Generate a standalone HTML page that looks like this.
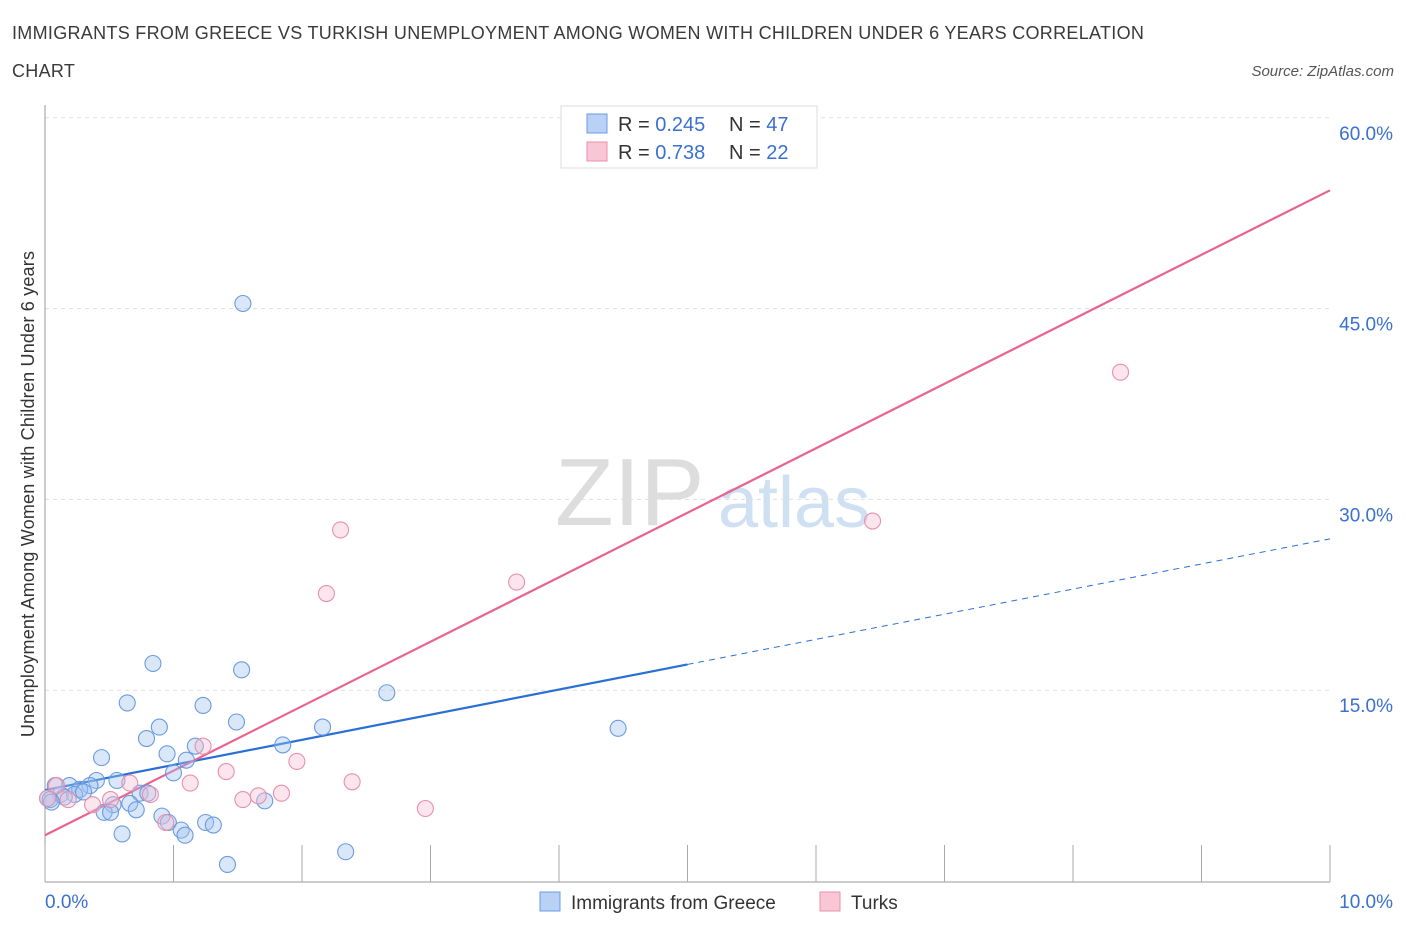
<!DOCTYPE html>
<html><head><meta charset="utf-8"><style>
body{margin:0;background:#fff;font-family:"Liberation Sans",sans-serif}
svg text{font-family:"Liberation Sans",sans-serif}
</style></head><body>
<svg id="c" width="1406" height="930" xmlns="http://www.w3.org/2000/svg">
<text x="12" y="39" font-size="18" fill="#3a3a3a" letter-spacing="0.3">IMMIGRANTS FROM GREECE VS TURKISH UNEMPLOYMENT AMONG WOMEN WITH CHILDREN UNDER 6 YEARS CORRELATION</text>
<text x="12" y="77" font-size="18" fill="#3a3a3a" letter-spacing="0.3">CHART</text>
<text x="1394" y="76" font-size="15" fill="#555" text-anchor="end" font-style="italic">Source: ZipAtlas.com</text>
<text x="555" y="525" font-size="96" fill="#ddd" font-family="Liberation Serif">ZIP</text>
<text x="718" y="527" font-size="72" fill="#cfe0f3">atlas</text>
<text transform="translate(34,494) rotate(-90)" font-size="18" fill="#333" text-anchor="middle" letter-spacing="0.2">Unemployment Among Women with Children Under 6 years</text>
<g id="grid"></g><g id="axes"></g><g id="lines"></g><g id="pts"></g>
<g>
<rect x="561" y="106" width="256" height="62" fill="#fff" stroke="#ddd"/>
<rect x="587" y="114" width="20" height="19" fill="#b8d1f5" stroke="#6a9be0"/>
<text x="618" y="131" font-size="20" fill="#333">R = <tspan fill="#3a70d0">0.245</tspan></text>
<text x="729" y="131" font-size="20" fill="#333">N = <tspan fill="#3a70d0">47</tspan></text>
<rect x="587" y="142" width="20" height="19" fill="#f8c6d4" stroke="#e890aa"/>
<text x="618" y="159" font-size="20" fill="#333">R = <tspan fill="#3a70d0">0.738</tspan></text>
<text x="729" y="159" font-size="20" fill="#333">N = <tspan fill="#3a70d0">22</tspan></text>
</g>
<g>
<rect x="540" y="892" width="20" height="19" fill="#b8d1f5" stroke="#6a9be0"/>
<text x="571" y="909" font-size="19" fill="#333">Immigrants from Greece</text>
<rect x="820" y="892" width="20" height="19" fill="#f8c6d4" stroke="#e890aa"/>
<text x="851" y="909" font-size="19" fill="#333">Turks</text>
</g>
</svg>
<script>
const xTicks=[0,1,2,3,4,5,6,7,8,9,10];
const yTicks=[15,30,45,60];
const yTickLabels=["15.0%","30.0%","45.0%","60.0%"];
const greeceX=[1.54,0.84,1.53,0.64,2.66,4.46,2.16,0.89,1.23,1.49,0.79,0.95,1.17,1.85,0.44,1.10,1.00,0.56,0.40,0.35,0.19,0.27,0.08,0.12,0.02,0.23,0.74,0.80,0.66,0.53,1.71,0.71,0.46,0.51,0.91,0.96,1.25,1.31,1.06,1.09,0.60,2.34,1.42,0.04,0.15,0.30,0.05];
const greeceY=[45.4,17.1,16.6,14.0,14.8,12.0,12.1,12.1,13.8,12.5,11.2,10.0,10.6,10.7,9.7,9.5,8.5,7.9,7.9,7.5,7.5,7.2,7.5,6.8,6.5,6.8,6.9,6.9,6.1,6.0,6.3,5.6,5.4,5.4,5.1,4.6,4.6,4.4,4.0,3.6,3.7,2.3,1.3,6.4,6.6,7.0,6.2];
const turksX=[8.37,6.44,2.30,3.67,2.19,1.23,1.96,1.41,2.39,1.13,0.66,1.84,1.66,1.54,2.96,0.82,0.51,0.37,0.18,0.09,0.94,0.02];
const turksY=[40.0,28.3,27.6,23.5,22.6,10.6,9.4,8.6,7.8,7.7,7.7,6.9,6.7,6.4,5.7,6.8,6.4,6.0,6.4,7.5,4.6,6.5];
const greeceFit=[7.15,1.975];
const turksFit=[3.6,5.07];
const NS="http://www.w3.org/2000/svg";
const X=v=>45+v*128.5, Y=v=>881-v*12.72;
function mk(t,a,p){const e=document.createElementNS(NS,t);for(const k in a)e.setAttribute(k,a[k]);document.getElementById(p).appendChild(e);return e;}
yTicks.forEach((t,i)=>{
 const g=mk('line',{x1:45,x2:1330,y1:Y(t),y2:Y(t),stroke:'#ddd','stroke-dasharray':'4,4'},'grid');
 
 
 const l=mk('text',{x:1393,y:Y(t)+22,'font-size':19,fill:'#3a70d0','text-anchor':'end'},'axes');
 l.textContent=yTickLabels[i];
 
 
});
const ax=mk('line',{x1:45,x2:45,y1:105,y2:882,stroke:'#999'},'axes');


const bx=mk('line',{x1:45,x2:1330,y1:882,y2:882,stroke:'#999'},'axes');


xTicks.forEach(t=>{
 const k=mk('line',{x1:X(t),x2:X(t),y1:845,y2:882,stroke:'#aaa'},'axes');
 
 
});
const xl0=mk('text',{x:45,y:908,'font-size':19,fill:'#3a70d0'},'axes');xl0.textContent='0.0%';


const xl1=mk('text',{x:1393,y:908,'font-size':19,fill:'#3a70d0','text-anchor':'end'},'axes');xl1.textContent='10.0%';


greeceX.forEach((x,i)=>{
 const c=mk('circle',{cx:X(x),cy:Y(greeceY[i]),r:8,fill:'rgba(160,195,240,0.4)',stroke:'#6a9be0','stroke-width':1.1},'pts');
 
 
});
turksX.forEach((x,i)=>{
 const c=mk('circle',{cx:X(x),cy:Y(turksY[i]),r:8,fill:'rgba(248,190,210,0.4)',stroke:'#e890aa','stroke-width':1.1},'pts');
 
 
});
const f=(p,x)=>p[0]+p[1]*x;
const g1=mk('line',{x1:X(0),y1:Y(f(greeceFit,0)),x2:X(5),y2:Y(f(greeceFit,5)),stroke:'#2a6fd6','stroke-width':2.2},'lines');


const g2=mk('line',{x1:X(5),y1:Y(f(greeceFit,5)),x2:X(10),y2:Y(f(greeceFit,10)),stroke:'#2a6fd6','stroke-width':1,'stroke-dasharray':'6,5'},'lines');


const t1=mk('line',{x1:X(0),y1:Y(f(turksFit,0)),x2:X(10),y2:Y(f(turksFit,10)),stroke:'#e8648e','stroke-width':2.2},'lines');


</script>
</body></html>
